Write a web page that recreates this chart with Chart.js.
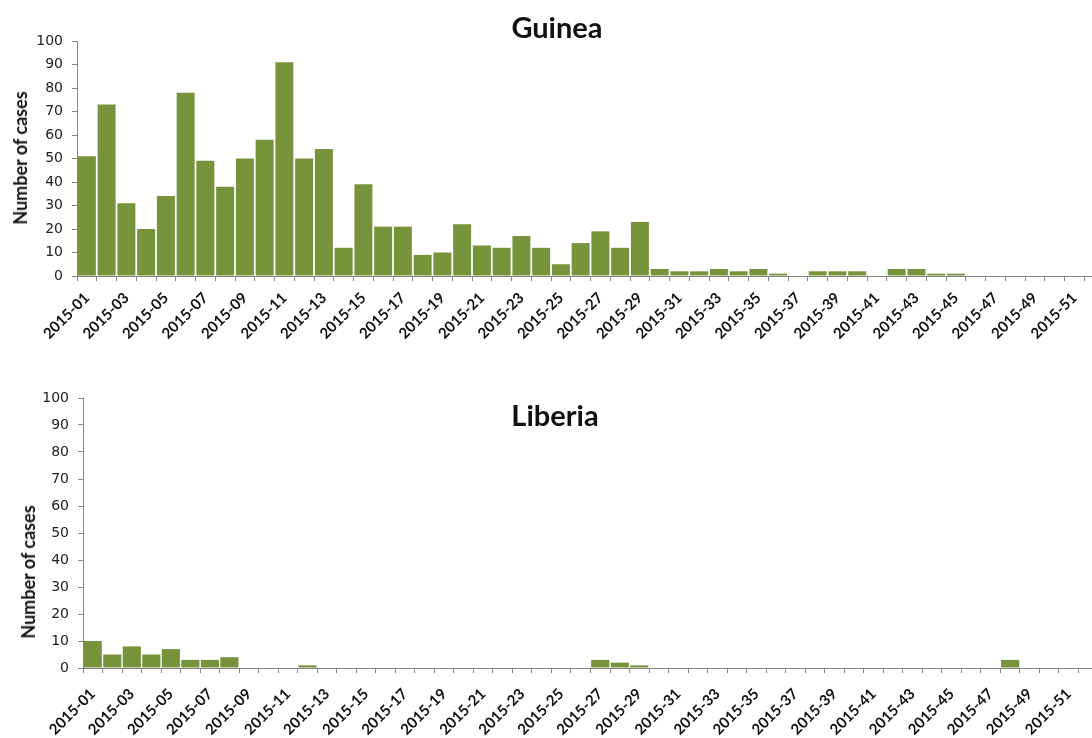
<!DOCTYPE html>
<html>
<head>
<meta charset="utf-8">
<script src="https://cdn.jsdelivr.net/npm/chart.js@4"></script>
<style>
  html, body { margin: 0; padding: 0; background: #fff; overflow: hidden; }
  body { width: 1092px; height: 738px; position: relative; }
  .box { position: absolute; left: 0; width: 1115px; }
  .title, .ytitle {
    position: absolute; white-space: nowrap; font-family: Lato, sans-serif;
    font-weight: bold; color: #111; transform: translate(-50%, -50%);
  }
  .title { font-size: 29px; }
  .ytitle { font-size: 18px; transform: translate(-50%, -50%) rotate(-90deg); }
</style>
</head>
<body>
<div class="box" style="top:0;height:370px"><canvas id="guinea"></canvas></div>
<div class="box" style="top:380px;height:358px"><canvas id="liberia"></canvas></div>
<div class="title" style="left:557px;top:26px">Guinea</div>
<div class="title" style="left:555px;top:414px">Liberia</div>
<div class="ytitle" style="left:20px;top:158px">Number of cases</div>
<div class="ytitle" style="left:28px;top:572px">Number of cases</div>
<script>
const weeks = [
  '2015-01','2015-02','2015-03','2015-04','2015-05','2015-06','2015-07','2015-08','2015-09','2015-10',
  '2015-11','2015-12','2015-13','2015-14','2015-15','2015-16','2015-17','2015-18','2015-19','2015-20',
  '2015-21','2015-22','2015-23','2015-24','2015-25','2015-26','2015-27','2015-28','2015-29','2015-30',
  '2015-31','2015-32','2015-33','2015-34','2015-35','2015-36','2015-37','2015-38','2015-39','2015-40',
  '2015-41','2015-42','2015-43','2015-44','2015-45','2015-46','2015-47','2015-48','2015-49','2015-50',
  '2015-51','2015-52'
];
const guineaCases = [
  51, 73, 31, 20, 34, 78, 49, 38, 50, 58,
  91, 50, 54, 12, 39, 21, 21, 9, 10, 22,
  13, 12, 17, 12, 5, 14, 19, 12, 23, 3,
  2, 2, 3, 2, 3, 1, 0, 2, 2, 2,
  0, 3, 3, 1, 1, 0, 0, 0, 0, 0,
  0, 0
];
const liberiaCases = [
  10, 5, 8, 5, 7, 3, 3, 4, 0, 0,
  0, 1, 0, 0, 0, 0, 0, 0, 0, 0,
  0, 0, 0, 0, 0, 0, 3, 2, 1, 0,
  0, 0, 0, 0, 0, 0, 0, 0, 0, 0,
  0, 0, 0, 0, 0, 0, 0, 3, 0, 0,
  0, 0
];
const yTicks = [0, 10, 20, 30, 40, 50, 60, 70, 80, 90, 100];

const barColor = '#77933C';
const axisColor = '#868686';

function makeChart(id, values, opt) {
  const ctx = document.getElementById(id).getContext('2d');
  return new Chart(ctx, {
    type: 'bar',
    data: {
      labels: weeks,
      datasets: [{
        data: values,
        backgroundColor: barColor,
        borderWidth: 0,
        categoryPercentage: 1,
        barPercentage: opt.barPct
      }]
    },
    options: {
      responsive: true,
      maintainAspectRatio: false,
      animation: false,
      layout: { padding: { left: 0, right: opt.padRight, top: opt.padTop, bottom: 0 } },
      plugins: { legend: { display: false }, tooltip: { enabled: false }, title: { display: false } },
      scales: {
        x: {
          grid: { display: true, drawOnChartArea: false, offset: true, tickLength: 5, color: axisColor },
          border: { display: true, color: axisColor, width: 1 },
          ticks: {
            autoSkip: false, maxRotation: 45, minRotation: 45, padding: opt.xPad,
            color: '#111', font: { family: 'Lato', weight: 'bold', size: 15 },
            callback: (v, i) => (i % 2 === 0 ? weeks[i] : '')
          },
          afterFit: s => { s.height = opt.xHeight; }
        },
        y: {
          min: 0, max: 100,
          afterBuildTicks: s => { s.ticks = yTicks.map(v => ({ value: v })); },
          grid: { display: true, drawOnChartArea: false, tickLength: 5, color: axisColor },
          border: { display: true, color: axisColor, width: 1 },
          ticks: { padding: 9, color: '#222', font: { family: 'DejaVu Sans', size: 14 } },
          afterFit: s => { s.width = opt.yWidth; }
        }
      }
    }
  });
}

// top: plot 77..1106 x 41..276 ; bottom: plot 83..1098 x 398..668
makeChart('guinea', guineaCases, { barPct: 0.91, padRight: 9, padTop: 41, xHeight: 94, yWidth: 77, xPad: 8 });
makeChart('liberia', liberiaCases, { barPct: 0.93, padRight: 17, padTop: 18, xHeight: 70, yWidth: 83, xPad: 12 });
</script>
</body>
</html>
